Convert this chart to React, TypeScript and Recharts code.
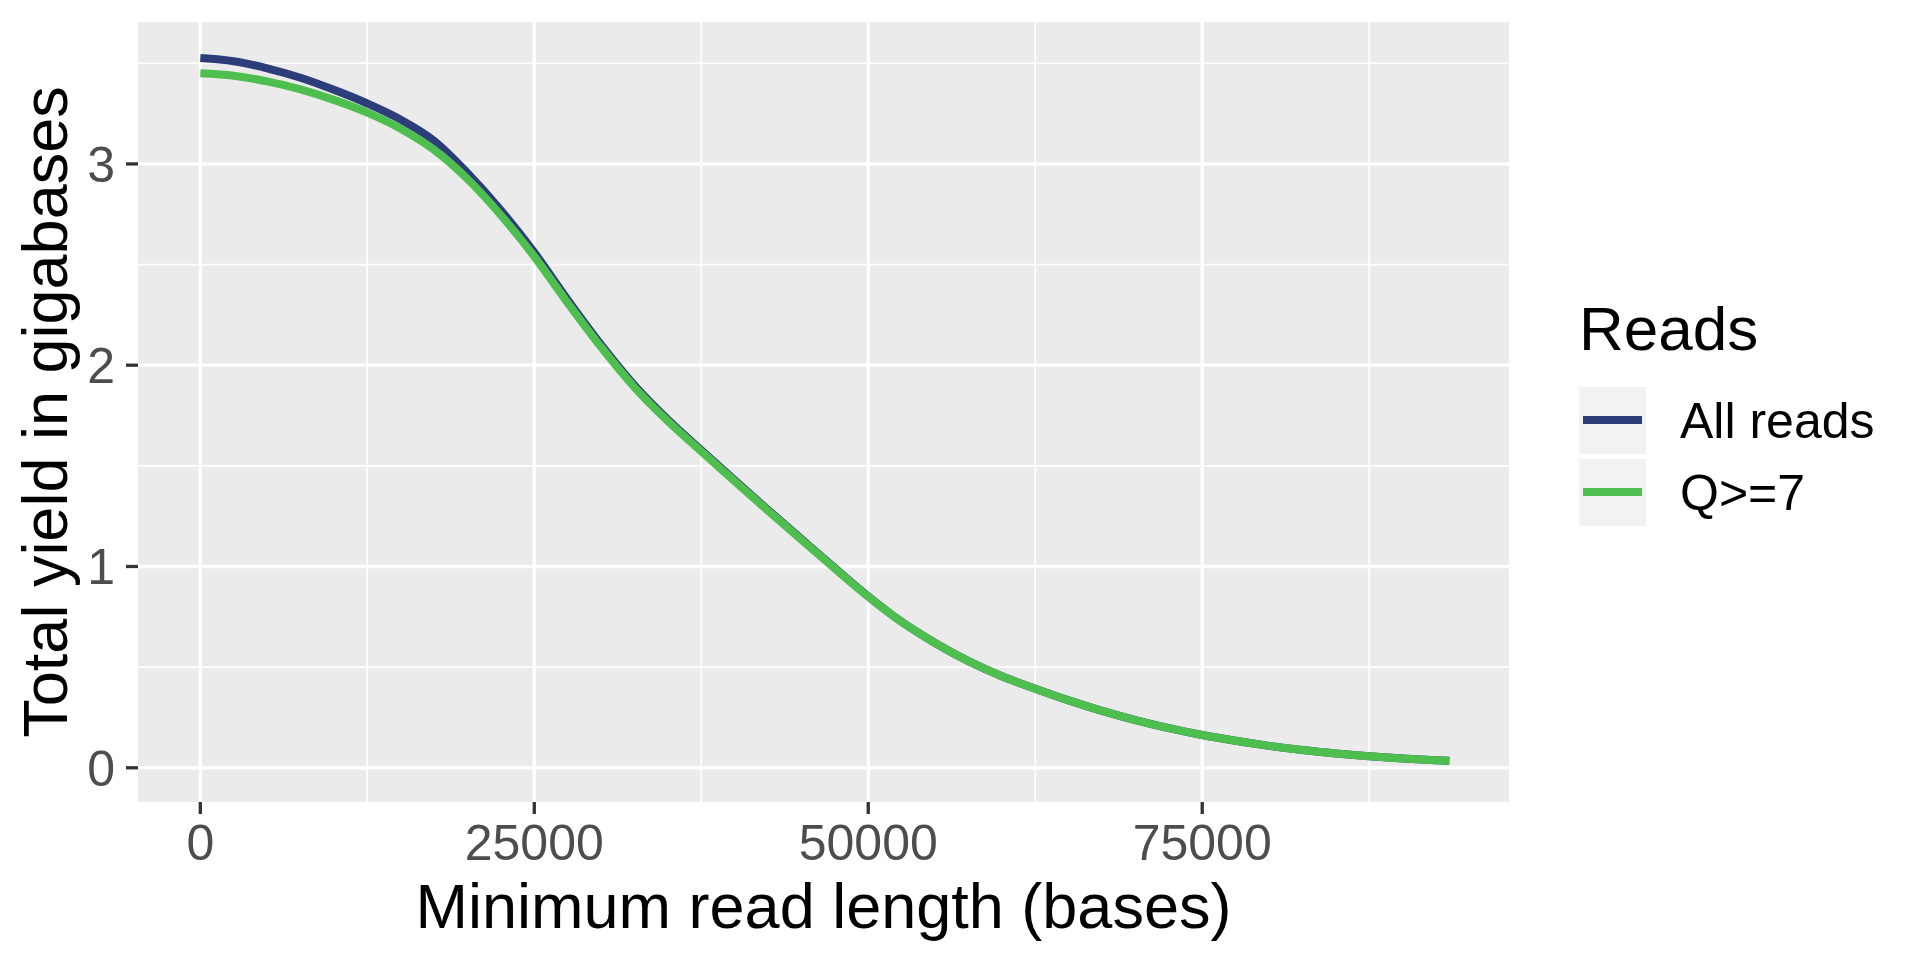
import { CartesianGrid, Line, LineChart, XAxis, YAxis } from "recharts";

const FONT = "'Liberation Sans', Arial, Helvetica, sans-serif";

// minimum read length (bases)
const readLength = [
  0, 2500, 5000, 7500, 10000, 12500, 15000, 17500, 20000, 22500, 25000, 27500, 30000, 32500, 35000,
  37500, 40000, 42500, 45000, 47500, 50000, 52500, 55000, 57500, 60000, 62500, 65000, 67500, 70000,
  72500, 75000, 77500, 80000, 82500, 85000, 87500, 90000, 92500, 93500,
];

// total yield, gigabases
const allReads = [
  3.526, 3.51, 3.475, 3.428, 3.368, 3.3, 3.22, 3.115, 2.955, 2.77, 2.56, 2.325, 2.102, 1.9, 1.73,
  1.578, 1.428, 1.281, 1.136, 0.992, 0.852, 0.725, 0.62, 0.53, 0.455, 0.393, 0.335, 0.283, 0.237,
  0.197, 0.163, 0.134, 0.109, 0.088, 0.071, 0.057, 0.046, 0.038, 0.035,
];
const q7Reads = [
  3.45, 3.438, 3.41, 3.37, 3.318, 3.255, 3.175, 3.07, 2.925, 2.745, 2.54, 2.31, 2.09, 1.89, 1.722,
  1.572, 1.423, 1.277, 1.133, 0.99, 0.85, 0.725, 0.62, 0.53, 0.455, 0.393, 0.335, 0.283, 0.237,
  0.197, 0.163, 0.134, 0.109, 0.088, 0.071, 0.057, 0.046, 0.038, 0.035,
];

const xTicks = [0, 25000, 50000, 75000];
const xMinor = [12500, 37500, 62500, 87500];
const yTicks = [0, 1, 2, 3];
const yMinor = [0.5, 1.5, 2.5, 3.5];

const series = [
  { key: "all", name: "All reads", color: "#2d3d7a" },
  { key: "q7", name: "Q>=7", color: "#4ebf4f" },
];

const data = readLength.map((x, i) => ({ x, all: allReads[i], q7: q7Reads[i] }));

function YTitle(props: any) {
  const vb = props.viewBox;
  const cy = vb.y + vb.height / 2;
  return (
    <text x={67} y={cy} transform={`rotate(-90, 67, ${cy})`} textAnchor="middle" fontSize={63} fontFamily={FONT} fill="#000">
      Total yield in gigabases
    </text>
  );
}

function XTitle(props: any) {
  const vb = props.viewBox;
  return (
    <text x={vb.x + vb.width / 2} y={vb.y + 126} textAnchor="middle" fontSize={63} fontFamily={FONT} fill="#000">
      Minimum read length (bases)
    </text>
  );
}

function ReadsLegend() {
  return (
    <svg width={360} height={260} style={{ position: "absolute", left: 1560, top: 280 }}>
      <text x={19} y={70} fontSize={62} fontFamily={FONT} fill="#000">
        Reads
      </text>
      {series.map((s, i) => (
        <g key={s.key} transform={`translate(0, ${i * 72})`}>
          <rect x={19} y={107} width={67} height={67} fill="#F2F2F2" />
          <line x1={23} x2={82} y1={140} y2={140} stroke={s.color} strokeWidth={8} />
          <text x={120} y={158} fontSize={50} fontFamily={FONT} fill="#000">
            {s.name}
          </text>
        </g>
      ))}
    </svg>
  );
}

export default function App() {
  return (
    <div style={{ position: "absolute", left: 0, top: 0, width: 1920, height: 960, background: "#fff" }}>
      <LineChart width={1920} height={960} data={data} margin={{ top: 22, right: 411, bottom: 0, left: 0 }}>
        <CartesianGrid
          fill="#EBEBEB"
          stroke="#fff"
          strokeWidth={1.7}
          horizontalValues={yMinor}
          verticalValues={xMinor}
        />
        <CartesianGrid stroke="#fff" strokeWidth={3.3} horizontalValues={yTicks} verticalValues={xTicks} />
        <XAxis
          dataKey="x"
          type="number"
          domain={[-4665, 97965]}
          allowDataOverflow
          ticks={xTicks}
          height={158}
          axisLine={false}
          tickLine={{ stroke: "#333", strokeWidth: 3.3 }}
          tickSize={12}
          tickMargin={10}
          tick={{ fontSize: 50, fill: "#4D4D4D", fontFamily: FONT }}
          label={XTitle}
        />
        <YAxis
          type="number"
          domain={[-0.17, 3.705]}
          allowDataOverflow
          ticks={yTicks}
          width={138}
          axisLine={false}
          tickLine={{ stroke: "#333", strokeWidth: 3.3 }}
          tickSize={12}
          tickMargin={11}
          tick={{ fontSize: 50, fill: "#4D4D4D", fontFamily: FONT }}
          label={YTitle}
        />
        <Line
          dataKey="all"
          name="All reads"
          type="monotone"
          stroke="#2d3d7a"
          strokeWidth={8}
          strokeLinecap="butt"
          dot={false}
          isAnimationActive={false}
        />
        <Line
          dataKey="q7"
          name="Q>=7"
          type="monotone"
          stroke="#4ebf4f"
          strokeWidth={8}
          strokeLinecap="butt"
          dot={false}
          isAnimationActive={false}
        />
      </LineChart>
      <ReadsLegend />
    </div>
  );
}
